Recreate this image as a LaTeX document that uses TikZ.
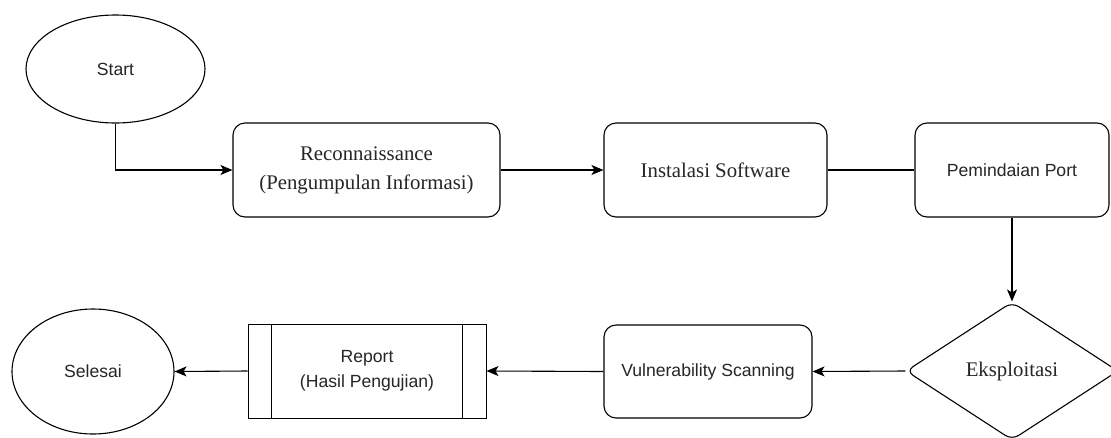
\documentclass[tikz,border=0pt]{standalone}
\usepackage{fontspec}
\setmainfont{Liberation Sans}
\newfontfamily\timesfont{Liberation Serif}
\usetikzlibrary{shapes.geometric, arrows.meta}

\tikzset{
	terminal/.style={draw, ellipse, line width=1.1pt, inner sep=0pt, font=\fontsize{17.6}{24}\selectfont},
	roundbox/.style={draw, rectangle, rounded corners=12pt, line width=1.1pt, align=center, inner sep=0pt, minimum height=94pt},
	sanslabel/.style={font=\fontsize{17.6}{25}\selectfont},
	seriflabel/.style={font=\timesfont\fontsize{20.8}{29}\selectfont},
	flow/.style={line width=1.1pt, -{Stealth[length=12pt, width=10pt, inset=3pt]}},
}

\begin{document}
\begin{tikzpicture}[x=1pt, y=-1pt, text=black!85]
		\clip (0,0) rectangle (1111,437);
		\fill[white] (0,0) rectangle (1111,437);

		\node[terminal, minimum width=179pt, minimum height=108pt] (start) at (115.5, 69) {Start};
		\node[roundbox, seriflabel, minimum width=267pt] (recon) at (366.5, 170) {Reconnaissance\\(Pengumpulan Informasi)};
		\node[roundbox, seriflabel, minimum width=223pt] (install) at (715.5, 170) {Instalasi Software};
		\node[roundbox, sanslabel, minimum width=194pt] (port) at (1012, 170) {Pemindaian Port};
		\node[draw, diamond, rounded corners=8pt, line width=1.1pt, inner sep=0pt, minimum width=212pt, minimum height=138pt, seriflabel] (exploit) at (1012, 371) {Eksploitasi};
		\node[roundbox, sanslabel, minimum width=208pt, minimum height=93pt] (vuln) at (708, 371.5) {Vulnerability Scanning};
		\node[draw, rectangle, line width=1pt, align=center, inner sep=0pt, minimum width=238pt, minimum height=94pt, sanslabel] (report) at (367, 371) {Report\\(Hasil Pengujian)};
		\node[terminal, minimum width=162pt, minimum height=125pt] (finish) at (93, 371.5) {Selesai};

		\foreach \side/\dx in {west/24, east/-24} {
				\draw[line width=1pt] ([xshift=\dx pt]report.north \side) -- ([xshift=\dx pt]report.south \side);
			}

		\draw[flow] (start.south) |- (recon.west);
		\draw[flow] (recon.east) -- (install.west);
		\draw[line width=1.1pt] (install.east) -- (port.west);
		\draw[flow] (port.south) -- (exploit.north);
		\draw[flow] (exploit.west) -- (vuln.east);
		\draw[flow] (vuln.west) -- (report.east);
		\draw[flow] (report.west) -- (finish.east);
	\end{tikzpicture}
\end{document}
